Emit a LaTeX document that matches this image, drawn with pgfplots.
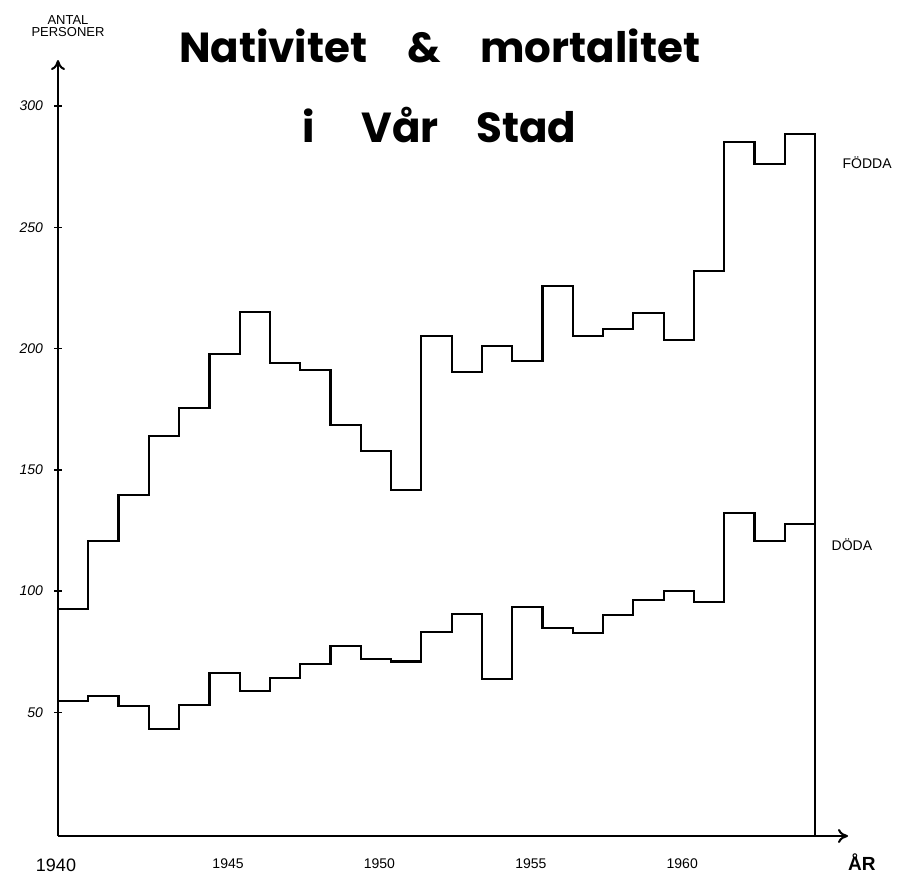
\documentclass[border=0pt]{standalone}
\usepackage{fontspec}
\setmainfont{Liberation Sans}
\newfontfamily\titlefont{Poppins}
\usepackage{pgfplots}
\pgfplotsset{compat=1.18}
\usetikzlibrary{arrows.meta}
\begin{document}
\begin{tikzpicture}
\begin{axis}[
  scale only axis,
  width=395pt, height=388pt,
  xmin=1940, xmax=1966.09,
  ymin=-1, ymax=319,
  axis x line=bottom, axis y line=left,
  axis line style={line width=1pt,-{To[length=5pt,width=7pt]}},
  xtick={1945,1950,1955,1960},
  xticklabels={1945,1950,1955,1960},
  extra x ticks={1940},
  extra x tick labels={1940},
  extra x tick style={xticklabel style={anchor=north, font=\fontsize{9}{10}\selectfont, xshift=1pt}},
  xticklabel style={anchor=north west, font=\fontsize{7}{8}\selectfont, yshift=-6pt, xshift=-2pt},
  x tick style={draw=none},
  xticklabel={\pgfmathprintnumber[1000 sep={}]{\tick}},
  ytick={50,100,150,200,250,300},
  yticklabel style={font=\itshape\fontsize{7}{8}\selectfont, xshift=-2pt},
  y tick style={line width=0.8pt, black},
  major tick length=4pt,
  tick align=center,
  /pgf/number format/assume math mode=true,
  clip=false,
]
\addplot[const plot, black, line width=1.1pt] coordinates {
(1940,92.5) (1941,120.7) (1942,139.7) (1943,163.9) (1944,175.4)
(1945,197.7) (1946,215.0) (1947,194.0) (1948,191.1) (1949,168.4)
(1950,157.7) (1951,141.6) (1952,205.1) (1953,190.3) (1954,201.0)
(1955,194.8) (1956,225.7) (1957,205.1) (1958,208.0) (1959,214.6)
(1960,203.5) (1961,231.9) (1962,285.1) (1963,276.1) (1964,288.4)
(1965,288.4) (1965,-1)
};
\addplot[const plot, black, line width=1.1pt] coordinates {
(1940,54.7) (1941,56.6) (1942,52.5) (1943,43.0) (1944,52.9)
(1945,66.1) (1946,58.8) (1947,64.0) (1948,69.8) (1949,77.4)
(1950,72.0) (1951,71.0) (1952,83.0) (1953,90.4) (1954,63.9)
(1955,93.3) (1956,84.7) (1957,82.6) (1958,90.0) (1959,96.2)
(1960,100.1) (1961,95.4) (1962,132.1) (1963,120.5) (1964,127.6)
(1965,127.6)
};
\node[font=\titlefont\bfseries\fontsize{21}{24}\selectfont] at (axis cs:1952.6,325.0) {Nativitet\hspace{0.95em}\&\hspace{0.95em}mortalitet};
\node[font=\titlefont\bfseries\fontsize{21}{24}\selectfont] at (axis cs:1952.6,292.3) {i\hspace{1.1em}Vår\hspace{0.9em}Stad};
\node[font=\fontsize{6.5}{7}\selectfont, align=center, inner sep=0pt] at (axis cs:1940.33,333) {ANTAL\\[-1pt]PERSONER};
\node[font=\fontsize{7}{8}\selectfont] at (axis cs:1966.72,276.6) {FÖDDA};
\node[font=\fontsize{7}{8}\selectfont] at (axis cs:1966.22,119) {DÖDA};
\node[font=\bfseries\fontsize{9.5}{10}\selectfont] at (axis cs:1966.55,-11.7) {ÅR};
\coordinate (bl) at (axis cs:1940,-1);
\end{axis}
\pgfresetboundingbox
\path[use as bounding box] ([shift={(-29pt,-19.5pt)}]bl) rectangle ([shift={(420pt,418pt)}]bl);
\end{tikzpicture}
\end{document}
